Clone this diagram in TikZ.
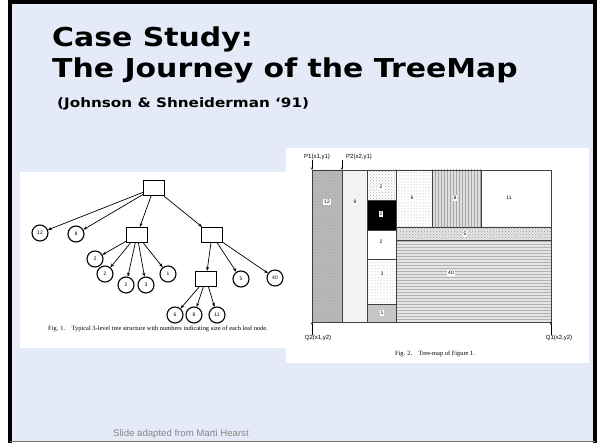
\documentclass[tikz,border=0pt]{standalone}
\usepackage{fontspec}
\setmainfont{Liberation Sans}
\newfontfamily\titlefont{DejaVu Sans}
\newfontfamily\figfont{Liberation Serif}
\usepackage{xcolor}
\definecolor{slidebg}{RGB}{228,234,247}
\definecolor{footgray}{RGB}{135,135,135}
\usepackage{tikz}
\usetikzlibrary{arrows.meta}
\usetikzlibrary{patterns}
\newcommand{\wide}[2]{\scalebox{#1}[1]{#2}}
\tikzset{
    leaf/.style={draw, circle, line width=1.1pt, minimum size=16pt, inner sep=0pt, font=\fontsize{5}{5}\selectfont},
    inner/.style={draw, rectangle, line width=1.1pt, minimum width=21pt, minimum height=15pt},
    link/.style={-{Stealth[length=4pt, width=3pt]}, line width=0.7pt},
    cell/.style={draw=black!75, line width=0.9pt},
    num/.style={fill=white, inner sep=0.8pt, font=\fontsize{5}{5}\selectfont},
    pin/.style={-{Stealth[length=2.5pt, width=2pt]}, line width=0.6pt},
    corner/.style={inner sep=0pt, font=\fontsize{6}{6}\selectfont},
    caption/.style={inner sep=0pt, font=\figfont\fontsize{6.4}{6.4}\selectfont}
}

\begin{document}
\begin{tikzpicture}[x=1pt, y=-1pt]
    \useasboundingbox (0,0) rectangle (602,443);
    % slide frame
    \fill[white] (0,0) rectangle (602,443);
    \fill[slidebg] (11,4) rectangle (593,441);
    \draw[line width=4pt] (10,0) -- (10,443) (8,2) -- (597,2) (594.5,0) -- (594.5,443);
    \draw[black!55, line width=1pt] (10,441.5) -- (595,441.5);

    % title
    \node[anchor=base west, inner sep=0pt, font=\titlefont\bfseries\fontsize{26}{26}\selectfont] (title) at (52,47) {\wide{1.15}{Case Study:}};
    \node[anchor=base west, inner sep=0pt, font=\titlefont\bfseries\fontsize{26}{26}\selectfont] (title-2) at (52,78) {\wide{1.15}{The Journey of the TreeMap}};
    \node[anchor=base west, inner sep=0pt, font=\titlefont\bfseries\fontsize{13}{13}\selectfont] (cite) at (57,108) {\wide{1.17}{(Johnson \& Shneiderman ‘91)}};

    % white panels
    \fill[white] (20,172) rectangle (286,348);
    \fill[white] (286,148) rectangle (589,363);

    % Fig. 1: the tree
    \node[inner] (root) at (154,188) {};
    \node[leaf] (n12) at (40,233) {12};
    \node[leaf] (n8) at (76,234) {8};
    \node[inner] (mid) at (137,235) {};
    \node[inner] (right) at (212,235) {};
    \node[leaf] (n2a) at (95,259) {2};
    \node[leaf] (n2b) at (105,274) {2};
    \node[leaf] (n2c) at (126,285) {2};
    \node[leaf] (n3) at (146,285) {3};
    \node[leaf] (n1) at (168,274) {1};
    \node[inner] (low) at (206,279) {};
    \node[leaf] (n5) at (241,279) {5};
    \node[leaf] (n40) at (275,278) {40};
    \node[leaf] (n6) at (175,315) {6};
    \node[leaf] (n8b) at (194,315) {8};
    \node[leaf] (n11) at (217,315) {11};

    \foreach \c in {n12, n8, mid, right}
        \draw[link] (root) -- (\c);
    \foreach \c in {n2a, n2b, n2c, n3, n1}
        \draw[link] (mid) -- (\c);
    \foreach \c in {low, n5, n40}
        \draw[link] (right) -- (\c);
    \foreach \c in {n6, n8b, n11}
        \draw[link] (low) -- (\c);

    \node[caption] (cap-1) at (158,329) {Fig. 1.\quad Typical 3-level tree structure with numbers indicating size of each leaf node.};

    % Fig. 2: the tree-map
    \fill[gray!55] (312,170) rectangle (342,322);
    \fill[pattern=crosshatch dots, pattern color=gray!70] (312,170) rectangle (342,322);
    \fill[gray!10] (342,170) rectangle (367,322);
    \fill[pattern=crosshatch dots, pattern color=gray!60] (367,170) rectangle (396,200);
    \fill[black] (367,200) rectangle (396,230);
    \fill[pattern=dots, pattern color=gray!70] (367,259) rectangle (396,304);
    \fill[gray!45] (367,304) rectangle (396,322);
    \fill[pattern=dots, pattern color=gray!70] (396,170) rectangle (432,227);
    \fill[gray!25] (432,170) rectangle (481,227);
    \fill[pattern=vertical lines, pattern color=gray!70] (432,170) rectangle (481,227);
    \fill[gray!20] (396,227) rectangle (551,240);
    \fill[pattern=crosshatch dots, pattern color=gray!80] (396,227) rectangle (551,240);
    \fill[gray!20] (396,240) rectangle (551,322);
    \fill[pattern=horizontal lines, pattern color=gray!60] (396,240) rectangle (551,322);

    \draw[cell] (312,170) rectangle (551,322);
    \draw[cell] (342,170) -- (342,322) (367,170) -- (367,322) (396,170) -- (396,322);
    \draw[cell] (367,200) -- (396,200) (367,230) -- (396,230) (367,259) -- (396,259) (367,304) -- (396,304);
    \draw[cell] (396,227) -- (551,227) (396,240) -- (551,240) (432,170) -- (432,227) (481,170) -- (481,227);

    \node[num] (m12) at (327,202) {12};
    \node[num] (m8) at (355,202) {8};
    \node[num] (m2a) at (381,187) {2};
    \node[num] (m2b) at (381,214) {2};
    \node[num] (m2c) at (381,242) {2};
    \node[num] (m3) at (382,274) {3};
    \node[num] (m1) at (382,313) {1};
    \node[num] (m6) at (412,198) {6};
    \node[num] (m8b) at (455,198) {8};
    \node[num] (m11) at (509,198) {11};
    \node[num] (m5) at (465,234) {5};
    \node[num] (m40) at (451,273) {40};

    % corner marks
    \node[corner] (p1) at (317,157) {P1(x1,y1)};
    \node[corner] (p2) at (359,157) {P2(x2,y1)};
    \node[corner] (q2) at (318,338) {Q2(x1,y2)};
    \node[corner] (q1) at (559,338) {Q1(x2,y2)};
    \coordinate (p1-tip) at (312,170);
    \coordinate (p2-tip) at (342,170);
    \coordinate (q2-tip) at (312,322);
    \coordinate (q1-tip) at (551,322);
    \draw[pin] (p1-tip |- p1.south) -- (p1-tip);
    \draw[pin] (p2-tip |- p2.south) -- (p2-tip);
    \draw[pin] (q2-tip |- q2.north) -- (q2-tip);
    \draw[pin] (q1-tip |- q1.north) -- (q1-tip);

    \node[caption] (cap-2) at (435,354) {Fig. 2.\quad Tree-map of Figure 1.};

    % footer
    \node[anchor=base west, inner sep=0pt, text=footgray, font=\fontsize{9.6}{9.6}\selectfont] (credit) at (113,436) {Slide adapted from Marti Hearst};
\end{tikzpicture}
\end{document}
